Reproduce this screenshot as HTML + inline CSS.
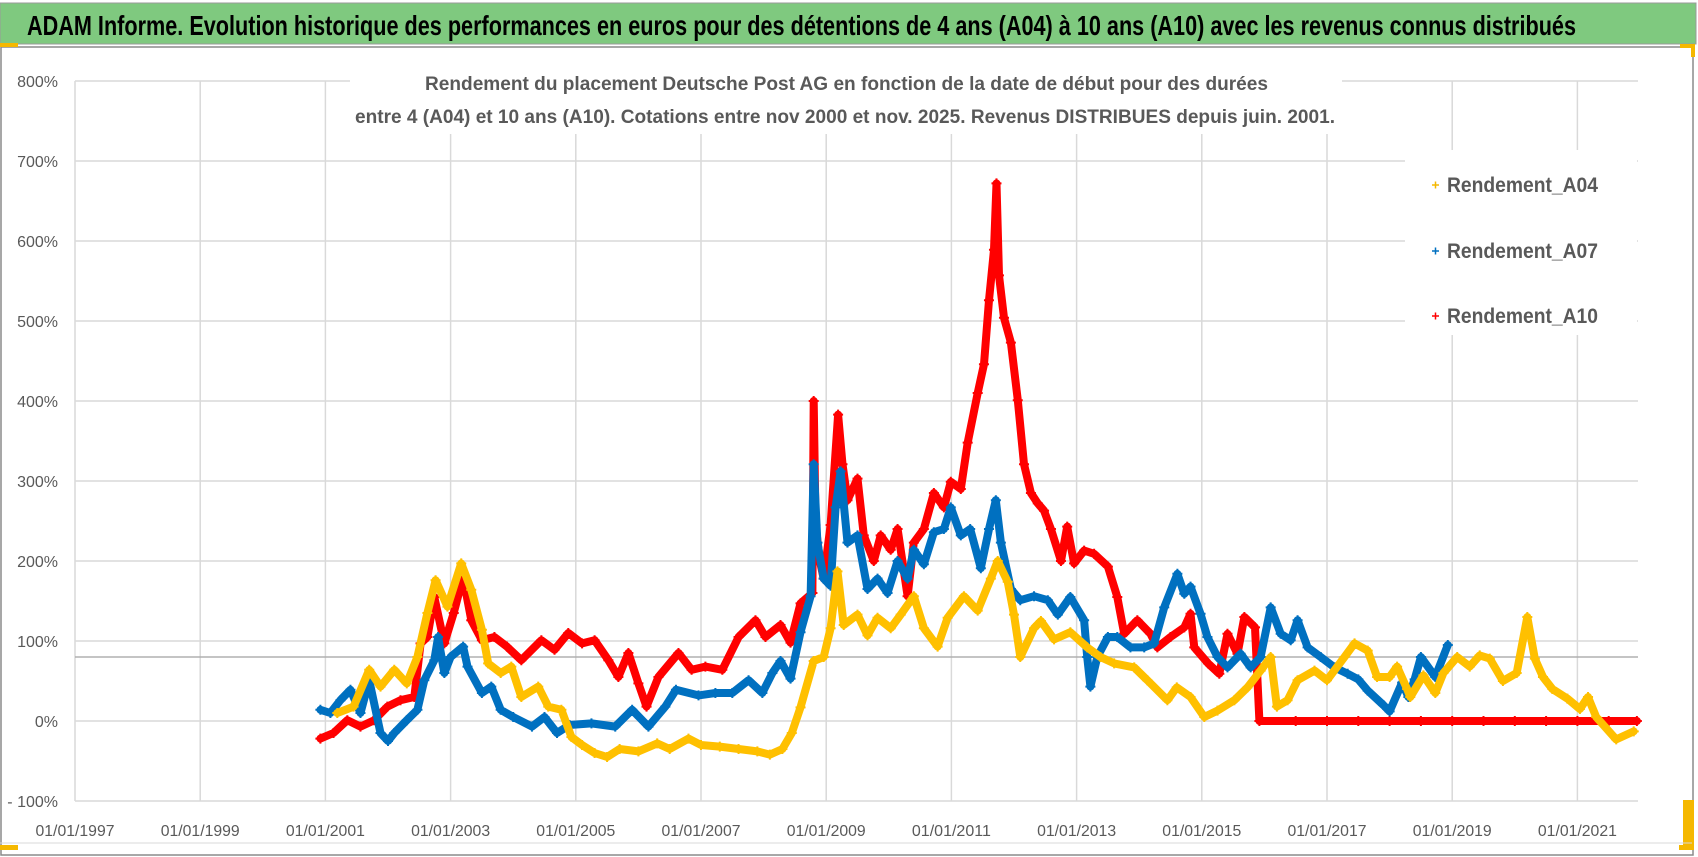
<!DOCTYPE html>
<html><head><meta charset="utf-8"><style>
html,body{margin:0;padding:0;background:#fff}
svg{display:block}
text{font-family:"Liberation Sans Narrow","Liberation Sans",sans-serif}
</style></head><body>
<svg id="chart" width="1698" height="857" viewBox="0 0 1698 857" xmlns="http://www.w3.org/2000/svg">
<rect x="0" y="0" width="1698" height="857" fill="#fff"/>
<rect x="1" y="47" width="1692" height="808" fill="#fff" stroke="#8a8a8a" stroke-width="1.5"/>
<rect x="0" y="3" width="1696" height="41" fill="#7fc97f" stroke="#9a9a9a" stroke-width="1"/>
<text x="27" y="35" font-size="28" font-weight="bold" fill="#000" textLength="1549" lengthAdjust="spacingAndGlyphs">ADAM Informe. Evolution historique des performances en euros pour des détentions de 4 ans (A04) à 10 ans (A10) avec les revenus connus distribués</text>
<rect x="0" y="43" width="18" height="4" fill="#f5b800"/>
<rect x="1680" y="44" width="15" height="4" fill="#f5b800"/>
<rect x="1691" y="44" width="4" height="13" fill="#f5b800"/>
<rect x="0" y="845" width="18" height="5" fill="#f5b800"/>
<rect x="1679" y="845" width="15" height="5" fill="#f5b800"/>
<rect x="1683" y="800" width="11" height="50" fill="#f5b800"/>
<line x1="0" y1="843" x2="1692" y2="843" stroke="#d9d9d9" stroke-width="1"/>
<g id="grid"></g>
<g id="yaxis"></g>
<g id="xaxis"></g>
<line id="ref80" stroke="#b0b0b0" stroke-width="1.5"/>
<g id="series"></g>
<rect x="350" y="62" width="992" height="72" fill="#fff"/>
<text x="425" y="90" font-size="19" font-weight="bold" fill="#595959" textLength="843" lengthAdjust="spacingAndGlyphs">Rendement du placement Deutsche Post AG en fonction de la date de début pour des durées</text>
<text x="355" y="123" font-size="19" font-weight="bold" fill="#595959" textLength="980" lengthAdjust="spacingAndGlyphs">entre 4 (A04) et 10 ans (A10). Cotations entre nov 2000 et nov. 2025. Revenus DISTRIBUES depuis juin. 2001.</text>
<g>
<rect x="1405" y="150" width="232" height="185" fill="#fff"/>
<g><path d="M1432 185h7M1435.5 181.5v7" stroke="#f5b800" stroke-width="1.5"/><text x="1447" y="192" font-size="21" font-weight="bold" fill="#595959" textLength="151" lengthAdjust="spacingAndGlyphs">Rendement_A04</text></g>
<g><path d="M1432 251h7M1435.5 247.5v7" stroke="#0070c0" stroke-width="1.5"/><text x="1447" y="258" font-size="21" font-weight="bold" fill="#595959" textLength="151" lengthAdjust="spacingAndGlyphs">Rendement_A07</text></g>
<g><path d="M1432 316h7M1435.5 312.5v7" stroke="#ff0000" stroke-width="1.5"/><text x="1447" y="323" font-size="21" font-weight="bold" fill="#595959" textLength="151" lengthAdjust="spacingAndGlyphs">Rendement_A10</text></g>
</g>
</svg>
<script>
const yTicks=[-100,0,100,200,300,400,500,600,700,800];
const yTickLabels=["- 100%","0%","100%","200%","300%","400%","500%","600%","700%","800%"];
const xTicks=[1997,1999,2001,2003,2005,2007,2009,2011,2013,2015,2017,2019,2021];
const xTickLabels=["01/01/1997","01/01/1999","01/01/2001","01/01/2003","01/01/2005","01/01/2007","01/01/2009","01/01/2011","01/01/2013","01/01/2015","01/01/2017","01/01/2019","01/01/2021"];
const refValue=80;
const a04T=[2001.19,2001.45,2001.7,2001.88,2002.1,2002.3,2002.47,2002.63,2002.76,2002.95,2003.17,2003.33,2003.5,2003.6,2003.8,2003.97,2004.13,2004.4,2004.56,2004.77,2004.93,2005.1,2005.3,2005.5,2005.7,2006.0,2006.3,2006.5,2006.8,2007.0,2007.3,2007.6,2007.9,2008.1,2008.3,2008.45,2008.59,2008.8,2008.96,2009.07,2009.18,2009.28,2009.5,2009.66,2009.82,2010.03,2010.19,2010.4,2010.56,2010.78,2010.94,2011.2,2011.42,2011.63,2011.74,2011.9,2012.0,2012.1,2012.32,2012.43,2012.64,2012.9,2013.17,2013.38,2013.6,2013.92,2014.13,2014.45,2014.6,2014.82,2015.04,2015.25,2015.52,2015.73,2015.94,2016.1,2016.2,2016.37,2016.53,2016.8,2017.0,2017.28,2017.44,2017.65,2017.8,2018.0,2018.12,2018.28,2018.33,2018.54,2018.73,2018.86,2019.08,2019.28,2019.44,2019.6,2019.81,2020.03,2020.2,2020.32,2020.45,2020.6,2020.84,2021.04,2021.17,2021.3,2021.62,2021.9];
const a04V=[10,18,64,43,64,47,80,135,176,143,197,164,114,72,60,68,30,43,18,14,-20,-30,-40,-45,-35,-38,-28,-35,-22,-30,-32,-35,-38,-42,-35,-15,17,75,80,116,187,120,133,107,129,116,133,156,116,93,129,156,138,178,200,174,133,80,116,125,102,111,92,80,72,67,51,26,42,30,5,13,26,42,63,80,18,26,51,63,51,80,97,88,55,55,68,40,30,57,35,60,80,68,82,78,50,60,130,78,55,40,28,15,30,5,-23,-13];
const a07T=[2000.92,2001.08,2001.24,2001.4,2001.56,2001.7,2001.88,2002.0,2002.1,2002.3,2002.47,2002.58,2002.74,2002.8,2002.9,2003.0,2003.2,2003.27,2003.5,2003.65,2003.8,2004.0,2004.3,2004.5,2004.7,2004.9,2005.25,2005.63,2005.9,2006.16,2006.43,2006.6,2006.96,2007.23,2007.5,2007.76,2007.98,2008.14,2008.27,2008.43,2008.59,2008.75,2008.8,2008.86,2008.96,2009.07,2009.15,2009.23,2009.34,2009.5,2009.66,2009.82,2009.98,2010.14,2010.3,2010.4,2010.56,2010.72,2010.88,2010.99,2011.15,2011.3,2011.47,2011.6,2011.71,2011.79,2011.95,2012.1,2012.32,2012.54,2012.7,2012.9,2013.12,2013.17,2013.22,2013.33,2013.5,2013.65,2013.86,2014.08,2014.24,2014.4,2014.61,2014.72,2014.82,2014.98,2015.09,2015.25,2015.41,2015.62,2015.78,2015.94,2016.1,2016.26,2016.42,2016.53,2016.69,2016.9,2017.12,2017.33,2017.5,2017.65,2017.9,2018.0,2018.2,2018.3,2018.4,2018.5,2018.73,2018.93];
const a07V=[14,10,26,39,10,51,-15,-25,-15,1,14,51,76,105,60,80,93,68,35,43,14,5,-7,5,-15,-5,-3,-7,14,-7,18,39,32,35,35,51,35,60,75,53,111,156,321,223,178,169,267,312,223,232,165,178,160,200,178,214,196,236,240,267,232,240,191,240,276,223,165,151,156,151,133,155,126,80,43,80,105,105,92,92,97,142,184,159,168,134,105,80,67,84,67,80,142,109,101,126,92,80,67,59,52,38,20,12,48,30,52,80,55,95];
const a10T=[2000.92,2001.13,2001.35,2001.56,2001.78,2001.99,2002.2,2002.42,2002.52,2002.63,2002.74,2002.9,2003.05,2003.2,2003.33,2003.5,2003.7,2003.9,2004.13,2004.45,2004.66,2004.88,2005.1,2005.3,2005.52,2005.68,2005.84,2006.0,2006.13,2006.32,2006.64,2006.85,2007.07,2007.34,2007.6,2007.87,2008.03,2008.27,2008.43,2008.59,2008.78,2008.8,2008.83,2008.9,2008.96,2009.07,2009.19,2009.26,2009.34,2009.5,2009.6,2009.76,2009.87,2010.03,2010.14,2010.3,2010.4,2010.56,2010.72,2010.88,2010.99,2011.15,2011.26,2011.42,2011.52,2011.6,2011.68,2011.72,2011.76,2011.84,2011.95,2012.06,2012.16,2012.27,2012.38,2012.48,2012.59,2012.75,2012.85,2012.96,2013.12,2013.28,2013.5,2013.65,2013.76,2013.97,2014.18,2014.29,2014.5,2014.72,2014.82,2014.88,2015.1,2015.28,2015.41,2015.57,2015.68,2015.85,2015.92,2016.5,2017.0,2017.5,2018.0,2018.5,2019.0,2019.5,2020.0,2020.5,2021.0,2021.5,2021.95];
const a10V=[-22,-15,1,-7,1,18,26,30,97,105,155,97,135,180,126,101,105,93,76,101,89,110,97,101,76,55,85,47,18,55,85,64,68,64,105,126,105,120,98,147,160,400,245,200,178,245,383,321,276,303,232,200,232,214,240,156,223,240,285,267,299,290,348,410,446,526,589,672,557,504,473,401,321,285,272,263,240,200,243,197,213,209,193,155,109,126,109,92,105,117,134,92,72,59,109,84,130,117,0,0,0,0,0,0,0,0,0,0,0,0,0];

const NS="http://www.w3.org/2000/svg";
const X0=75,X1=1638,YR0=1997,PXYR=62.6;
function xScale(t){return X0+(t-YR0)*PXYR;}
function yScale(v){return 721-v*0.8;}
function mk(tag,attrs,parent){const e=document.createElementNS(NS,tag);for(const k in attrs)e.setAttribute(k,attrs[k]);parent.appendChild(e);return e;}

const grid=document.getElementById('grid');
const yaxis=document.getElementById('yaxis');
const xaxis=document.getElementById('xaxis');
yTicks.forEach((v,i)=>{
  const l=mk('line',{x1:X0,x2:X1,y1:yScale(v),y2:yScale(v),stroke:'#d9d9d9','stroke-width':1.5},grid);
  
  
  const t=mk('text',{x:58,y:yScale(v)+6,'text-anchor':'end','font-size':16,fill:'#595959'},yaxis);
  t.textContent=yTickLabels[i];
  
  
});
xTicks.forEach((v,i)=>{
  const l=mk('line',{x1:xScale(v),x2:xScale(v),y1:yScale(800),y2:yScale(-100),stroke:'#d9d9d9','stroke-width':1.5},grid);
  
  
  const t=mk('text',{x:xScale(v),y:836,'text-anchor':'middle','font-size':16,fill:'#595959',textLength:79,lengthAdjust:'spacingAndGlyphs'},xaxis);
  t.textContent=xTickLabels[i];
  
  
});
const ref=document.getElementById('ref80');
ref.setAttribute('x1',X0);ref.setAttribute('x2',X1);
ref.setAttribute('y1',yScale(refValue));ref.setAttribute('y2',yScale(refValue));

const layer=document.getElementById('series');
function drawSeries(T,V,color,name){
  const g=mk('g',{},layer);
  
  
  const pts=T.map((t,i)=>xScale(t).toFixed(1)+','+yScale(V[i]).toFixed(1)).join(' ');
  const pl=mk('polyline',{points:pts,fill:'none',stroke:color,'stroke-width':8,'stroke-linejoin':'round','stroke-linecap':'round'},g);
  
  
  T.forEach((t,i)=>{
    const x=xScale(t),y=yScale(V[i]);
    const p=mk('path',{d:`M${x-5} ${y}h10M${x} ${y-5}v10`,stroke:color,'stroke-width':2},g);
    
    
  });
}
drawSeries(a10T,a10V,'#ff0000','series-a10');
drawSeries(a07T,a07V,'#0070c0','series-a07');
drawSeries(a04T,a04V,'#ffc000','series-a04');
</script>
</body></html>
